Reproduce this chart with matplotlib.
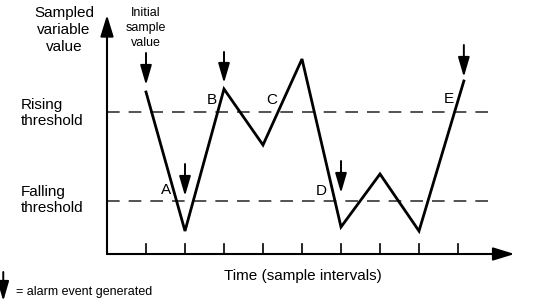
import matplotlib
matplotlib.use('Agg')
import matplotlib.pyplot as plt

plt.rcParams['font.family'] = ['Liberation Sans', 'DejaVu Sans']

# sampled values (x in sample intervals, y in arbitrary value units)
sample_x = [1, 2, 3, 4, 5, 6, 7, 8, 9.15]
sample_y = [162, 23, 165, 109, 195, 27, 80, 23, 173]
rising = 142
falling = 53
tick_x = [1, 2, 3, 4, 5, 6, 7, 8, 9]

# alarm arrows: (x, top, tip)
alarm_x = [1, 2, 3, 6, 9.15]
alarm_top = [201, 90, 202, 93, 209]
alarm_tip = [169, 58, 171, 61, 177]

# point labels
label_txt = ['A', 'B', 'C', 'D', 'E']
label_x = [1.51, 2.69, 4.23, 5.49, 8.77]
label_y = [64, 154, 154, 63, 155]

fig = plt.figure(figsize=(5.43, 3.04), dpi=100)
ax = fig.add_axes([0, 0, 1, 1])
ax.set_xlim(-107 / 39, (543 - 107) / 39)
ax.set_ylim(-50, 254)
ax.axis('off')

head = '-|>,head_length=1.3,head_width=0.4'
small_head = '-|>,head_length=1.2,head_width=0.35'

# axes with arrows
ax.annotate('', xy=(0, 239), xytext=(0, 0),
            arrowprops=dict(arrowstyle=head, mutation_scale=10, lw=1.5,
                            color='black', shrinkA=0, shrinkB=0))
ax.annotate('', xy=(10.45, 0), xytext=(0, 0),
            arrowprops=dict(arrowstyle=head, mutation_scale=10, lw=1.5,
                            color='black', shrinkA=0, shrinkB=0))
for t in tick_x:
    ax.plot([t, t], [0, 10], color='black', lw=1.2)

# thresholds
for th in [rising, falling]:
    ax.plot([0, 9.8], [th, th], color='#444444', lw=1.3, dashes=(7, 5))

# signal
ax.plot(sample_x, sample_y, color='black', lw=2, solid_joinstyle='miter')

# alarm arrows
for x, top, tip in zip(alarm_x, alarm_top, alarm_tip):
    ax.annotate('', xy=(x, tip), xytext=(x, top),
                arrowprops=dict(arrowstyle=small_head, mutation_scale=10, lw=1.4,
                                color='black', shrinkA=0, shrinkB=0))

for s, x, y in zip(label_txt, label_x, label_y):
    ax.text(x, y, s, fontsize=11, ha='center', va='center')

# text labels
ax.text(-1.1, 224, 'Sampled\nvariable\nvalue', fontsize=11, ha='center', va='center',
        linespacing=1.3)
ax.text(1, 226, 'Initial\nsample\nvalue', fontsize=9, ha='center', va='center',
        linespacing=1.3)
ax.text(-2.2, 141, 'Rising\nthreshold', fontsize=11, ha='left', va='center',
        linespacing=1.2)
ax.text(-2.2, 54, 'Falling\nthreshold', fontsize=11, ha='left', va='center',
        linespacing=1.2)
ax.text(5.03, -22, 'Time (sample intervals)', fontsize=11, ha='center', va='center')

# legend
ax.annotate('', xy=(-2.66, -47), xytext=(-2.66, -18),
            arrowprops=dict(arrowstyle=small_head, mutation_scale=10, lw=1.4,
                            color='black', shrinkA=0, shrinkB=0))
ax.text(-2.33, -38, '= alarm event generated', fontsize=9, ha='left', va='center')

fig.savefig('out.png', dpi=100)
